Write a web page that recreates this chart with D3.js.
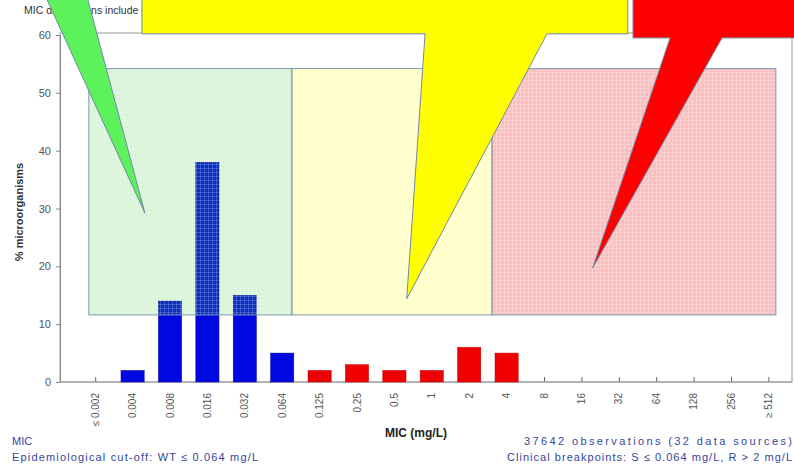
<!DOCTYPE html>
<html>
<head>
<meta charset="utf-8">
<script src="https://cdn.jsdelivr.net/npm/d3@7"></script>
<style>
body { margin: 0; background: #fff; }
text { font-family: "Liberation Sans", Arial, sans-serif; }
</style>
</head>
<body>
<script>
var w = 794;
var h = 467;

// MIC categories and % of isolates
var mics = ["≤ 0.002","0.004","0.008","0.016","0.032","0.064","0.125","0.25","0.5","1","2","4","8","16","32","64","128","256","≥ 512"];
var pct = [0,2,14,38,15,5,2,3,2,2,6,5,0,0,0,0,0,0,0];
var yTicks = [0,10,20,30,40,50,60];
var ecoffIndex = 5; // WT <= 0.064

// shaded zones, in category-index units and % units
var zoneColors = ["#3ccf3c","#ffff00","#f23c3c"];
var zoneOpacity = [0.2,0.22,0.32];
var zoneFrom = [-0.17,5.26,10.61];
var zoneTo = [5.26,10.61,18.2];
var zoneLo = 11.6;
var zoneHi = 54.2;

// callouts: body box (x0,x1,yTop,yBottom), wedge base (xl,xr), tip (x,y)
var calloutColors = ["#5cf25c","#ffff00","#ff0000"];
var calloutBody = [[-4,-0.3,75,68.1],[1.25,14.24,70,60.2],[14.38,19.6,70,59.5]];
var calloutBase = [[-1.43,-0.28],[8.82,12.08],[15.37,16.76]];
var calloutTip = [[1.33,29.2],[8.33,14.4],[13.3,19.7]];

var svg = d3.select("body")
	.append("svg")
	.attr("width", w)
	.attr("height", h);

var x = d3.scalePoint().domain(mics).range([95.2, 768.4]);
var xi = d3.scaleLinear().domain([0, 18]).range([95.2, 768.4]);
var y = d3.scaleLinear().domain([0, 60]).range([382, 35]);
var barW = x.step() * 0.62;

// top note (mostly hidden under the callouts)
svg.append("text")
	.attr("x", 24).attr("y", 14)
	.attr("font-size", 10.5)
	.attr("fill", "#333")
	.text("MIC distributions include collated data from multiple sources, geographical areas and time periods");

// frame
svg.append("rect")
	.attr("x", 60).attr("y", 33)
	.attr("width", 732).attr("height", 349)
	.attr("fill", "none")
	.attr("stroke", "#999");

// y axis
var yAxis = svg.append("g")
	.attr("transform", "translate(60,0)")
	.call(d3.axisLeft(y).tickValues(yTicks).tickSize(4).tickPadding(5));
yAxis.select(".domain").attr("stroke", "#888");
yAxis.selectAll("line").attr("stroke", "#888");
yAxis.selectAll("text").attr("font-size", 11).attr("fill", "#555")
	.style("font-family", "Liberation Sans, Arial");

svg.append("text")
	.attr("transform", "translate(23,212) rotate(-90)")
	.attr("text-anchor", "middle")
	.attr("font-size", 11)
	.attr("font-weight", "bold")
	.attr("fill", "#333")
	.text("% microorganisms");

// x axis
var xAxis = svg.append("g")
	.attr("transform", "translate(0,382)")
	.call(d3.axisBottom(x).tickSize(-5).tickFormat(""));
xAxis.select(".domain").remove();
xAxis.selectAll("line").attr("stroke", "#666");
svg.append("line")
	.attr("x1", 60).attr("x2", 792)
	.attr("y1", 382).attr("y2", 382)
	.attr("stroke", "#999");

svg.selectAll(".xlab")
	.data(mics)
	.enter()
	.append("text")
	.attr("class", "xlab")
	.attr("transform", function(d){
		return "translate(" + (x(d) + 3.5) + ",393) rotate(-90)";
	})
	.attr("text-anchor", "end")
	.attr("font-size", 10)
	.attr("fill", "#555")
	.text(function(d){ return d; });

svg.append("text")
	.attr("x", 416).attr("y", 437)
	.attr("text-anchor", "middle")
	.attr("font-size", 12)
	.attr("font-weight", "bold")
	.attr("fill", "#222")
	.text("MIC (mg/L)");

// bars
svg.selectAll(".bar")
	.data(pct)
	.enter()
	.append("rect")
	.attr("class", "bar")
	.attr("x", function(d,i){ return x(mics[i]) - barW/2; })
	.attr("y", function(d){ return y(d); })
	.attr("width", barW)
	.attr("height", function(d){ return y(0) - y(d); })
	.attr("fill", function(d,i){ return i <= ecoffIndex ? "#0008e0" : "#f00000"; })
	.attr("stroke", function(d,i){ return i <= ecoffIndex ? "#0000a0" : "#c00000"; })
	.attr("stroke-width", 0.5);

// grid texture for the zones
var defs = svg.append("defs");
zoneColors.forEach(function(c, i){
	var p = defs.append("pattern")
		.attr("id", "grid" + i)
		.attr("patternUnits", "userSpaceOnUse")
		.attr("width", 4).attr("height", 4);
	p.append("rect").attr("width", 4).attr("height", 4)
		.attr("fill", c).attr("fill-opacity", zoneOpacity[i]);
	p.append("path").attr("d", "M0,0.5H4M0.5,0V4")
		.attr("stroke", "#fff").attr("stroke-opacity", 0.18).attr("stroke-width", 1);
});

svg.selectAll(".zone")
	.data(zoneColors)
	.enter()
	.append("rect")
	.attr("class", "zone")
	.attr("x", function(d,i){ return xi(zoneFrom[i]); })
	.attr("y", y(zoneHi))
	.attr("width", function(d,i){ return xi(zoneTo[i]) - xi(zoneFrom[i]); })
	.attr("height", y(zoneLo) - y(zoneHi))
	.attr("fill", function(d,i){ return "url(#grid" + i + ")"; })
	.attr("stroke", "#7f9ab8")
	.attr("stroke-width", 1);

// callouts
svg.selectAll(".callout")
	.data(calloutColors)
	.enter()
	.append("polygon")
	.attr("class", "callout")
	.attr("points", function(d,i){
		var b = calloutBody[i], s = calloutBase[i], t = calloutTip[i];
		var pts = [[b[0],b[2]],[b[1],b[2]],[b[1],b[3]],[s[1],b[3]],[t[0],t[1]],[s[0],b[3]],[b[0],b[3]]];
		return pts.map(function(p){ return xi(p[0]) + "," + y(p[1]); }).join(" ");
	})
	.attr("fill", function(d){ return d; })
	.attr("stroke", "#7388a8")
	.attr("stroke-width", 1);

// footer notes
var navy = "#34469a";
svg.append("text").attr("x", 12).attr("y", 445)
	.attr("font-size", 11).attr("fill", navy).text("MIC");
svg.append("text").attr("x", 12).attr("y", 461)
	.attr("font-size", 11).attr("fill", navy)
	.attr("textLength", 246).attr("lengthAdjust", "spacing")
	.text("Epidemiological cut-off: WT ≤ 0.064 mg/L");
svg.append("text").attr("x", 524).attr("y", 445)
	.attr("font-size", 11).attr("fill", navy)
	.attr("textLength", 268).attr("lengthAdjust", "spacing")
	.text("37642 observations (32 data sources)");
svg.append("text").attr("x", 507).attr("y", 461)
	.attr("font-size", 11).attr("fill", navy)
	.attr("textLength", 285).attr("lengthAdjust", "spacing")
	.text("Clinical breakpoints: S ≤ 0.064 mg/L,  R > 2 mg/L");
</script>
</body>
</html>
